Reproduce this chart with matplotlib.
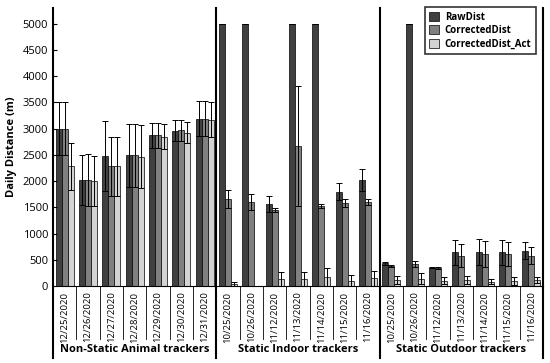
import numpy as np
import matplotlib.pyplot as plt

plt.rcParams['font.family'] = ['Open Sans', 'DejaVu Sans']

# Daten
dates = ["12/25/2020", "12/26/2020", "12/27/2020", "12/28/2020", "12/29/2020", "12/30/2020", "12/31/2020",
         "10/25/2020", "10/26/2020", "11/12/2020", "11/13/2020", "11/14/2020", "11/15/2020", "11/16/2020",
         "10/25/2020", "10/26/2020", "11/12/2020", "11/13/2020", "11/14/2020", "11/15/2020", "11/16/2020"]
groups = ["Non-Static Animal trackers", "Static Indoor trackers", "Static Outdoor trackers"]

raw = [3000, 2020, 2480, 2490, 2870, 2960, 3190,
       5000, 5000, 1560, 5000, 5000, 1800, 2020,
       435, 5000, 350, 640, 645, 645, 675]
raw_err = [500, 480, 670, 600, 230, 200, 330,
           0, 0, 150, 0, 0, 160, 210,
           30, 0, 15, 240, 250, 240, 160]
corr = [3000, 2020, 2280, 2490, 2870, 2970, 3190,
        1660, 1600, 1450, 2670, 1530, 1590, 1595,
        385, 415, 345, 580, 610, 610, 575]
corr_err = [500, 490, 560, 600, 230, 200, 330,
            165, 150, 40, 1150, 40, 75, 60,
            20, 55, 15, 220, 250, 230, 160]
act = [2280, 2000, 2280, 2460, 2850, 2920, 3170,
       40, 5, 130, 130, 170, 95, 145,
       115, 140, 100, 115, 85, 100, 115]
act_err = [450, 470, 560, 600, 230, 200, 330,
           40, 0, 140, 140, 180, 110, 150,
           75, 100, 65, 75, 55, 75, 60]

x = np.arange(len(dates))
w = 0.26

fig = plt.figure(figsize=(5.5, 3.63), dpi=100)
ax = fig.add_axes([53/550, 77/363, 490/550, 278/363])

ekw = dict(elinewidth=0.7, capsize=2, capthick=0.7, ecolor="black")
ax.bar(x - w, raw, w, yerr=raw_err, color="#404040", edgecolor="black", lw=0.5, label="RawDist", error_kw=ekw)
ax.bar(x, corr, w, yerr=corr_err, color="#808080", edgecolor="black", lw=0.5, label="CorrectedDist", error_kw=ekw)
ax.bar(x + w, act, w, yerr=act_err, color="#d3d3d3", edgecolor="black", lw=0.5, label="CorrectedDist_Act", error_kw=ekw)

ax.set_xlim(-0.5, len(dates) - 0.5)
ax.set_ylim(0, 5300)
ax.set_yticks(np.arange(0, 5001, 500))
ax.tick_params(axis="y", direction="in", length=3, labelsize=8)
ax.set_xticks(x)
ax.set_xticklabels(dates, rotation=90, fontsize=6.8)
ax.tick_params(axis="x", length=0, pad=4)
ax.set_ylabel("Daily Distance (m)", fontsize=8, fontweight="bold")

ax.spines["top"].set_visible(False)
ax.spines["left"].set_linewidth(1.5)
ax.spines["right"].set_linewidth(1.5)
ax.spines["bottom"].set_linewidth(0.8)

# Trennlinien
tr = ax.get_xaxis_transform()
for b in np.arange(0.5, len(dates) - 1, 1):
    if b in (6.5, 13.5):
        ax.plot([b, b], [-0.26, 1.0], transform=tr, color="black", lw=1.5, clip_on=False)
    else:
        ax.plot([b, b], [-0.19, 0], transform=tr, color="black", lw=0.6, clip_on=False)
for s in (-0.5, len(dates) - 0.5):
    ax.plot([s, s], [-0.26, 0], transform=tr, color="black", lw=1.5, clip_on=False)

for i, g in enumerate(groups):
    ax.text(3 + 7 * i, -0.23, g, transform=tr, ha="center", va="center", fontsize=8, fontweight="bold")

leg = ax.legend(loc="upper right", bbox_to_anchor=(0.995, 1.02), prop={"weight": "bold", "size": 7},
                frameon=True, fancybox=False, edgecolor="black", handlelength=1, handleheight=1,
                handletextpad=0.6, borderpad=0.45, labelspacing=0.25)
leg.get_frame().set_linewidth(1.2)

fig.savefig("out.png", dpi=100)
